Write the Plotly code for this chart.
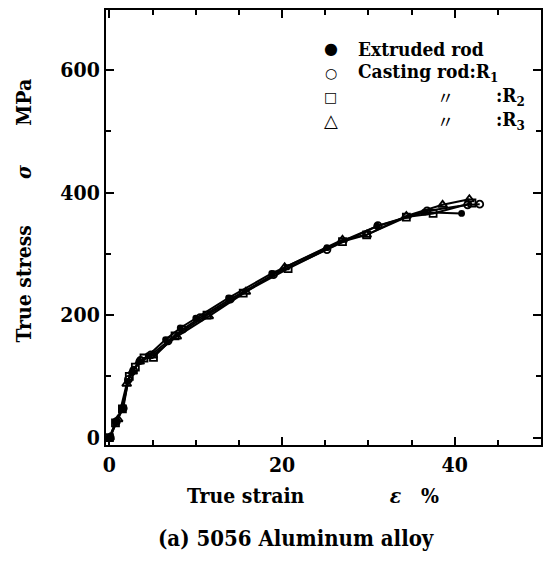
import plotly.graph_objects as go

# Extruded rod (filled circles)
ext_x = [0.0, 0.7, 1.5, 2.1, 2.6, 3.4, 4.5, 6.5, 8.2, 10.0, 13.8, 18.8, 25.2, 31.0, 36.5, 40.8]
ext_y = [0, 25, 48, 92, 106, 124, 134, 160, 179, 195, 228, 268, 310, 345, 368, 366]

# Casting rod R1 (open circles)
r1_x = [0.1, 0.8, 1.6, 2.2, 2.8, 3.6, 4.8, 6.8, 8.5, 10.5, 14.0, 19.0, 25.2, 31.1, 36.8, 41.5, 42.9]
r1_y = [0, 26, 48, 95, 110, 126, 135, 158, 177, 196, 226, 266, 307, 346, 370, 380, 381]

# Casting rod R2 (open squares)
r2_x = [0.0, 0.7, 1.5, 2.3, 3.0, 4.0, 5.1, 7.6, 11.3, 15.5, 20.7, 27.0, 29.8, 34.4, 37.5, 42.0]
r2_y = [0, 24, 47, 100, 115, 130, 131, 166, 200, 236, 276, 320, 331, 360, 366, 383]

# Casting rod R3 (open triangles)
r3_x = [0.0, 1.0, 2.0, 2.7, 3.5, 5.0, 7.8, 11.5, 15.8, 20.3, 27.0, 29.8, 34.4, 38.6, 41.7]
r3_y = [0, 30, 88, 108, 124, 134, 165, 198, 238, 278, 323, 331, 362, 380, 389]

x_tickvals = [0, 20, 40]
x_ticktext = ["0", "20", "40"]
y_tickvals = [0, 200, 400, 600]
y_ticktext = ["0", "200", "400", "600"]

legend_glyphs = ["●", "○", "□", "△"]
legend_glyph_sizes = [16, 14, 14, 18]
legend_labels = ["Extruded rod", "Casting rod:R<sub>1</sub>", ":R<sub>2</sub>", ":R<sub>3</sub>"]
legend_ditto = [None, None, "〃", "〃"]

FONT = "DejaVu Serif Condensed, DejaVu Serif, Noto Sans CJK JP, serif"

fig = go.Figure()
lw = 2
series = [
    (ext_x, ext_y, "circle", 5),
    (r1_x, r1_y, "circle-open", 7),
    (r2_x, r2_y, "square-open", 7),
    (r3_x, r3_y, "triangle-up-open", 8),
]
for xs, ys, sym, sz in series:
    fig.add_trace(go.Scatter(
        x=xs, y=ys, mode="lines+markers",
        line=dict(color="black", width=lw),
        marker=dict(symbol=sym, size=sz, color="black", line=dict(color="black", width=1.8)),
        showlegend=False,
    ))

axis_common = dict(
    showgrid=False, zeroline=False, showline=True, linecolor="black", linewidth=2,
    mirror="ticks", ticks="inside", tickcolor="black", tickwidth=2,
    tickfont=dict(family=FONT, size=21, color="black", weight="bold"),
)

fig.update_xaxes(
    range=[-0.4, 50], tickvals=x_tickvals, ticktext=x_ticktext, ticklen=8,
    minor=dict(dtick=5, ticks="inside", ticklen=5, tickcolor="black", tickwidth=1.5),
    **axis_common,
)
fig.update_yaxes(
    range=[-12, 698], tickvals=y_tickvals, ticktext=y_ticktext, ticklen=8,
    minor=dict(dtick=100, ticks="inside", ticklen=5, tickcolor="black", tickwidth=1.5),
    **axis_common,
)

# legend built from text (plot area: 106..543 px wide, 8..445 px tall)
pw, ph = 437.0, 437.0
def px_x(p):
    return (p - 106) / pw
def px_y(p):
    return (445 - p) / ph

annotations = []
row_y = [47, 71, 95, 119]
for i in range(4):
    annotations.append(dict(text=legend_glyphs[i], xref="paper", yref="paper",
                            x=px_x(332), y=px_y(row_y[i]), xanchor="center", yanchor="middle",
                            showarrow=False,
                            font=dict(family="DejaVu Sans", size=legend_glyph_sizes[i], color="black", weight="bold")))
    lx = 357 if i < 2 else 496
    annotations.append(dict(text=legend_labels[i], xref="paper", yref="paper",
                            x=px_x(lx), y=px_y(row_y[i]), xanchor="left", yanchor="middle",
                            showarrow=False,
                            font=dict(family=FONT, size=19, color="black", weight="bold")))
    if legend_ditto[i]:
        annotations.append(dict(text=legend_ditto[i], xref="paper", yref="paper",
                                x=px_x(447), y=px_y(row_y[i]), xanchor="center", yanchor="middle",
                                showarrow=False,
                                font=dict(family="Noto Sans CJK JP", size=17, color="black")))

annotations += [
    dict(text="True strain" + "\u00a0" * 13 + "<i>ε</i>" + "\u00a0" * 3 + "%", xref="paper", yref="paper",
         x=0.475, y=-0.115, xanchor="center", yanchor="middle", showarrow=False,
         font=dict(family=FONT, size=21, color="black", weight="bold")),
    dict(text="(a) 5056 Aluminum alloy", xref="paper", yref="paper",
         x=0.436, y=-0.213, xanchor="center", yanchor="middle", showarrow=False,
         font=dict(family=FONT, size=22, color="black", weight="bold")),
    dict(text="True stress" + "\u00a0" * 7 + "<i>σ</i>" + "\u00a0" * 6 + "MPa", xref="paper", yref="paper",
         x=-0.19, y=0.54, xanchor="center", yanchor="middle", showarrow=False, textangle=-90,
         font=dict(family=FONT, size=21, color="black", weight="bold")),
]

fig.update_layout(
    width=551, height=561,
    margin=dict(l=106, r=8, t=8, b=116),
    paper_bgcolor="white", plot_bgcolor="white",
    font=dict(family=FONT, color="black"),
    showlegend=False,
    annotations=annotations,
)

fig.write_html("out.html")
